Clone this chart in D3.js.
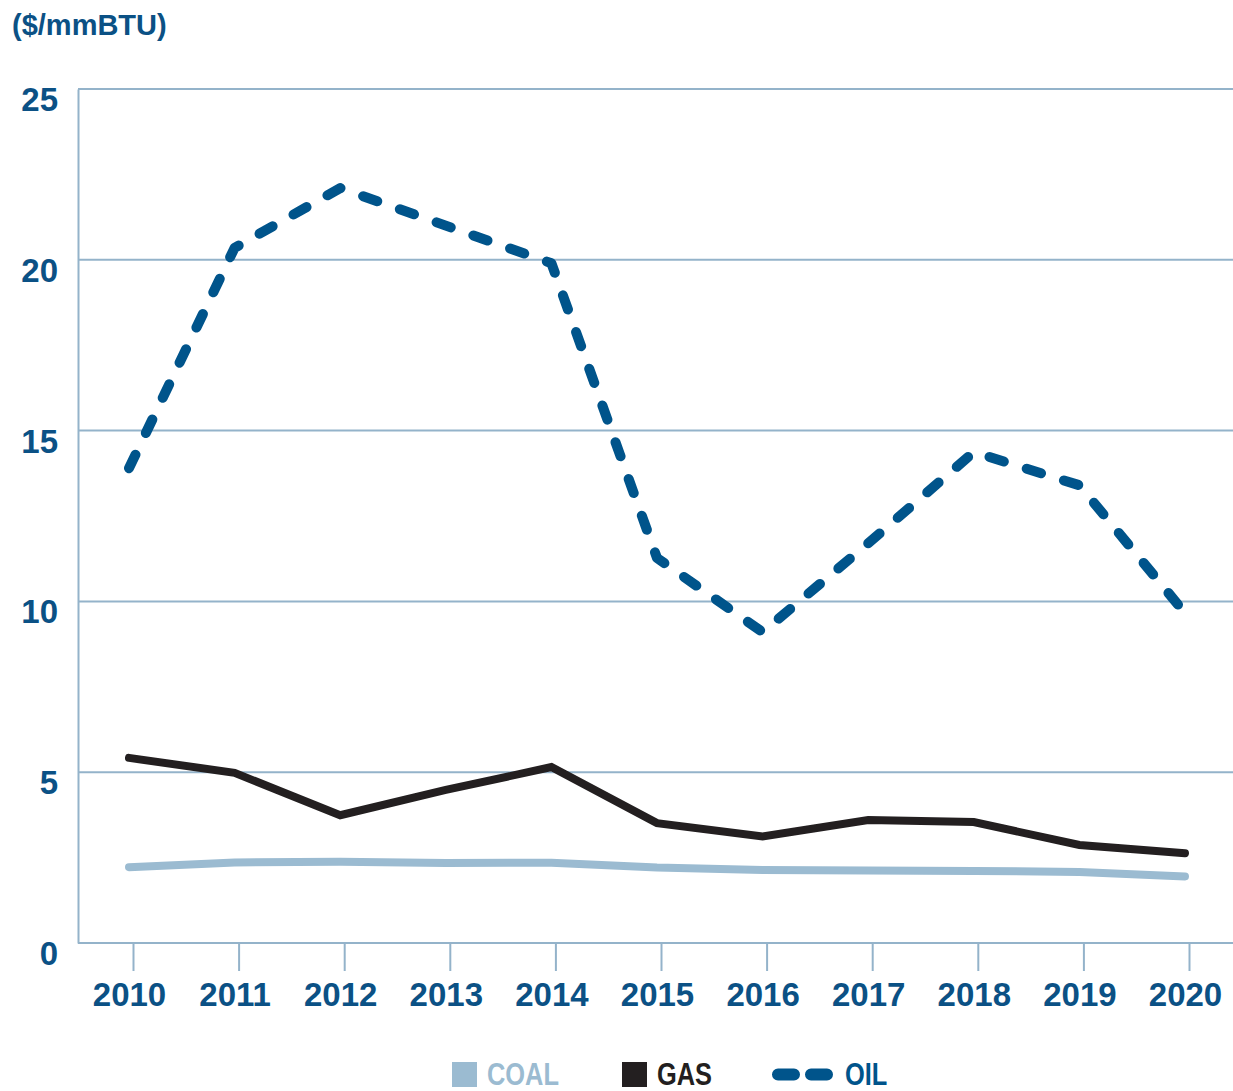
<!DOCTYPE html>
<html>
<head>
<meta charset="utf-8">
<script src="https://cdn.jsdelivr.net/npm/d3@7"></script>
<style>
    body { margin: 0; background: #fff; }
    svg { display: block; }
    text { font-family: "Liberation Sans", Arial, sans-serif; font-weight: bold; }
</style>
</head>
<body>
<svg id="fig" width="1233" height="1091"></svg>
<script>
const years = [2010, 2011, 2012, 2013, 2014, 2015, 2016, 2017, 2018, 2019, 2020];
const coal = [2.22, 2.36, 2.38, 2.34, 2.35, 2.21, 2.14, 2.12, 2.11, 2.08, 1.95];
const gas = [5.42, 4.98, 3.74, 4.48, 5.15, 3.51, 3.12, 3.6, 3.54, 2.87, 2.63];
const oil = [13.9, 20.35, 22.1, 21.0, 19.9, 11.27, 9.1, 11.7, 14.37, 13.4, 9.66];
const yTicks = [0, 5, 10, 15, 20, 25];
const unitLabel = "($/mmBTU)";

const series = [
    {name: "COAL", values: coal, color: "#9bbbd1", width: 8, dash: null},
    {name: "GAS", values: gas, color: "#231f20", width: 8, dash: null},
    {name: "OIL", values: oil, color: "#00548b", width: 10, dash: "15 24"}
];

const textColor = "#0b5185";
const gridColor = "#94b3ca";

const svg = d3.select("#fig");
const plotLeft = 78, plotRight = 1233, plotTop = 89, plotBottom = 943;

const x = d3.scalePoint().domain(years).range([129, 1185]);
const y = d3.scaleLinear().domain([0, 25]).range([plotBottom, plotTop]);

// unit title
svg.append("text")
    .attr("x", 12).attr("y", 35)
    .attr("fill", textColor)
    .style("font-size", "29px")
    .text(unitLabel);

// grid lines
svg.append("g")
    .selectAll("line")
    .data(yTicks.filter(d => d > 0))
    .join("line")
    .attr("x1", plotLeft).attr("x2", plotRight)
    .attr("y1", d => y(d)).attr("y2", d => y(d))
    .attr("stroke", gridColor).attr("stroke-width", 2);

// y axis
const yAxis = svg.append("g")
    .attr("transform", `translate(${plotLeft},0)`)
    .call(d3.axisLeft(y).tickValues(yTicks).tickSize(0).tickPadding(20));
yAxis.select(".domain").attr("stroke", gridColor).attr("stroke-width", 2);
yAxis.selectAll("text")
    .attr("fill", textColor)
    .attr("dy", "0.65em")
    .attr("x", -20)
    .style("font-size", "33px")
    .style("font-family", "Liberation Sans, Arial, sans-serif")
    .style("font-weight", "bold");

// x axis
const xAxis = svg.append("g")
    .attr("transform", `translate(0,${plotBottom})`)
    .call(d3.axisBottom(x).tickSize(28).tickPadding(12));
xAxis.select(".domain")
    .attr("d", `M${plotLeft},0H${plotRight}`)
    .attr("stroke", gridColor).attr("stroke-width", 2);
xAxis.selectAll(".tick line")
    .attr("stroke", gridColor).attr("stroke-width", 2)
    .attr("transform", "translate(4,0)");
xAxis.selectAll("text")
    .attr("fill", textColor)
    .style("font-size", "33px")
    .style("font-family", "Liberation Sans, Arial, sans-serif")
    .style("font-weight", "bold");

// lines
const line = d3.line().x((d, i) => x(years[i])).y(d => y(d));

svg.append("g")
    .selectAll("path")
    .data(series)
    .join("path")
    .attr("d", d => line(d.values))
    .attr("fill", "none")
    .attr("stroke", d => d.color)
    .attr("stroke-width", d => d.width)
    .attr("stroke-linecap", "round")
    .attr("stroke-linejoin", d => d.dash ? "round" : "miter")
    .attr("stroke-dasharray", d => d.dash);

// legend (condensed text, squeezed horizontally)
const legendX = [452, 622, 772];
const legend = svg.append("g")
    .selectAll("g")
    .data(series)
    .join("g")
    .attr("transform", (d, i) => `translate(${legendX[i]},1062)`);

legend.each(function(d){
    const g = d3.select(this);
    let textX;
    if(d.dash){
        g.append("line")
            .attr("x1", 6).attr("x2", 55)
            .attr("y1", 12.5).attr("y2", 12.5)
            .attr("stroke", d.color)
            .attr("stroke-width", 12)
            .attr("stroke-linecap", "round")
            .attr("stroke-dasharray", "16 17");
        textX = 73;
    } else {
        g.append("rect")
            .attr("width", 25).attr("height", 25)
            .attr("fill", d.color);
        textX = 35;
    }
    g.append("text")
        .attr("transform", `translate(${textX},22.5) scale(0.82,1)`)
        .attr("fill", d.color)
        .style("font-size", "31px")
        .style("font-weight", "900")
        .text(d.name);
});
</script>
</body>
</html>
